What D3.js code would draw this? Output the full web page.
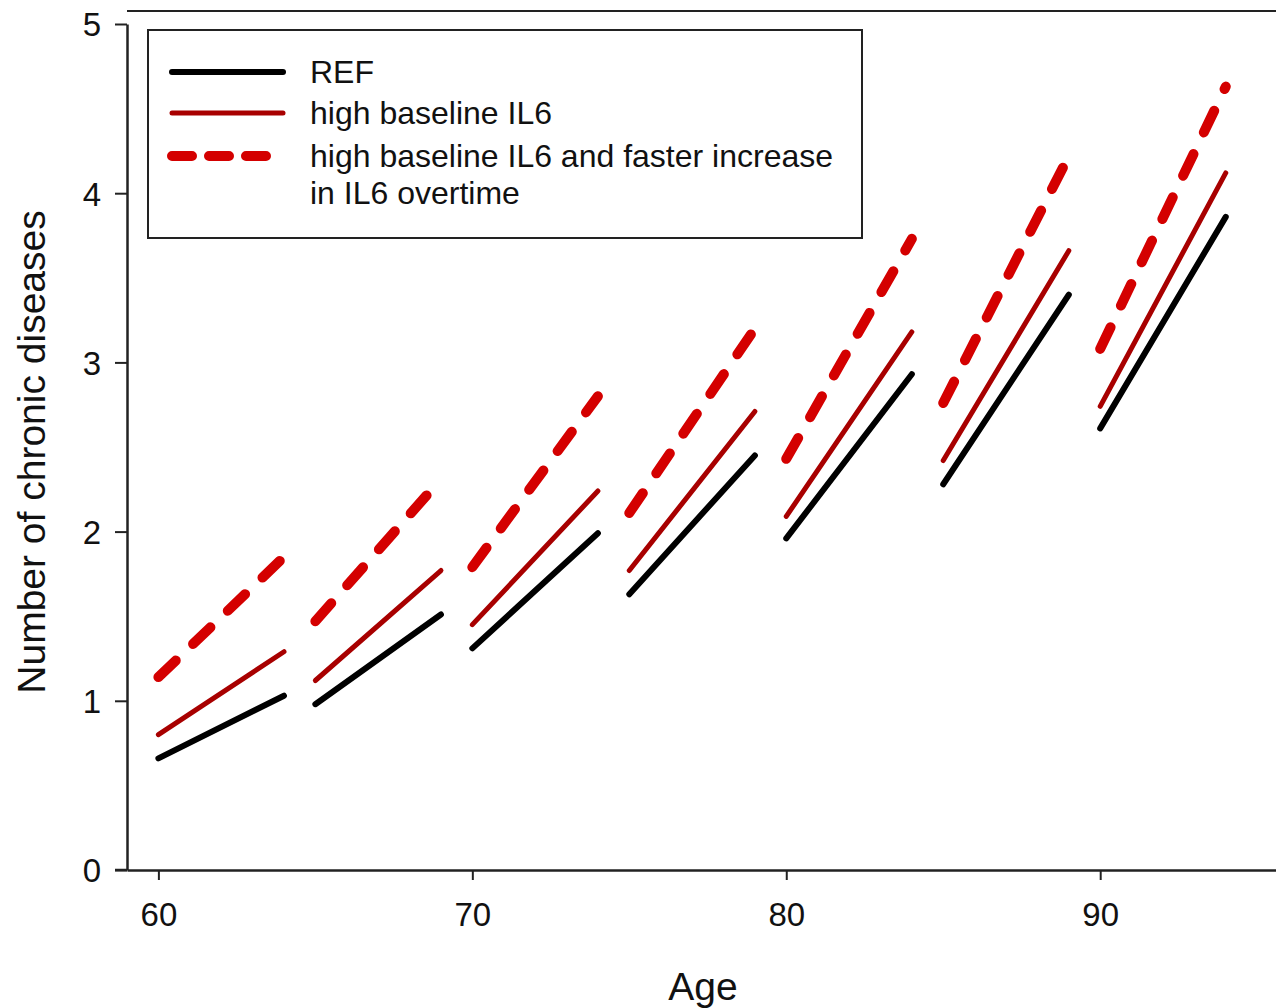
<!DOCTYPE html>
<html>
<head>
<meta charset="utf-8">
<script src="https://cdn.jsdelivr.net/npm/d3@7"></script>
<style>
  body { margin: 0; background: #fff; }
  text { font-family: "Liberation Sans", Arial, sans-serif; fill: #111; }
</style>
</head>
<body>
<script>
// data: each age group has a start and end age
const starts = [60, 65, 70, 75, 80, 85, 90];
const ends = [64, 69, 74, 79, 84, 89, 94];

const refStart = [0.66, 0.98, 1.31, 1.63, 1.96, 2.28, 2.61];
const refEnd = [1.03, 1.51, 1.99, 2.45, 2.93, 3.40, 3.86];

const highStart = [0.80, 1.12, 1.45, 1.77, 2.09, 2.42, 2.74];
const highEnd = [1.29, 1.77, 2.24, 2.71, 3.18, 3.66, 4.12];

const fastStart = [1.14, 1.47, 1.79, 2.11, 2.43, 2.76, 3.08];
const fastEnd = [1.85, 2.31, 2.80, 3.20, 3.73, 4.22, 4.63];

const xTicks = [60, 70, 80, 90];
const yTicks = [0, 1, 2, 3, 4, 5];

const legendLabels = ["REF", "high baseline IL6", "high baseline IL6 and faster increase", "in IL6 overtime"];

const W = 1276, H = 1008;
const svg = d3.select("body").append("svg").attr("width", W).attr("height", H);

const x = d3.scaleLinear().domain([59, 95.6]).range([127, 1276]);
const y = d3.scaleLinear().domain([0, 5]).range([870, 24]);

// top frame line
svg.append("line").attr("x1", 127).attr("x2", W).attr("y1", 11).attr("y2", 11)
  .attr("stroke", "#222").attr("stroke-width", 2);

// axes
const yAxis = svg.append("g").attr("transform", "translate(127,0)")
  .call(d3.axisLeft(y).tickValues(yTicks).tickFormat(d3.format("d"))
    .tickSize(12).tickPadding(14).tickSizeOuter(0));
const xAxis = svg.append("g").attr("transform", "translate(0,870)")
  .call(d3.axisBottom(x).tickValues(xTicks).tickFormat(d3.format("d"))
    .tickSize(10).tickPadding(23).tickSizeOuter(0));

[xAxis, yAxis].forEach(g => {
  g.attr("font-size", 33);
  g.select(".domain").attr("stroke", "#222").attr("stroke-width", 2.5);
  g.selectAll(".tick line").attr("stroke", "#222").attr("stroke-width", 2);
  g.selectAll(".tick text").attr("fill", "#111");
});
yAxis.selectAll(".tick text").attr("dy", "0.36em");
// x axis line runs to the 0 tick on the left
xAxis.append("line").attr("x1", 115).attr("x2", 127).attr("y1", 0).attr("y2", 0)
  .attr("stroke", "#222").attr("stroke-width", 2.5);

// axis titles
svg.append("text").attr("x", 703).attr("y", 1000).attr("text-anchor", "middle")
  .attr("font-size", 39).text("Age");
svg.append("text").attr("transform", "translate(45,452) rotate(-90)")
  .attr("text-anchor", "middle").attr("font-size", 39).text("Number of chronic diseases");

// series
const series = [
  { s: refStart, e: refEnd, color: "#000", width: 6, dash: null },
  { s: highStart, e: highEnd, color: "#a80000", width: 5, dash: null },
  { s: fastStart, e: fastEnd, color: "#d40000", width: 10, dash: "24 24" }
];

series.forEach(ser => {
  svg.append("g").selectAll("line").data(starts).enter().append("line")
    .attr("x1", (d, i) => x(starts[i]))
    .attr("y1", (d, i) => y(ser.s[i]))
    .attr("x2", (d, i) => x(ends[i]))
    .attr("y2", (d, i) => y(ser.e[i]))
    .attr("stroke", ser.color)
    .attr("stroke-width", ser.width)
    .attr("stroke-linecap", "round")
    .attr("stroke-dasharray", ser.dash);
});

// legend
const lg = svg.append("g");
lg.append("rect").attr("x", 148).attr("y", 30).attr("width", 714).attr("height", 208)
  .attr("fill", "#fff").attr("stroke", "#222").attr("stroke-width", 2);

const legendRows = [
  { y: 72, color: "#000", width: 6, dash: null },
  { y: 113, color: "#a80000", width: 5, dash: null },
  { y: 156, color: "#d40000", width: 10, dash: "20 17" }
];
legendRows.forEach(r => {
  lg.append("line").attr("x1", 172).attr("x2", r.dash ? 266 : 283)
    .attr("y1", r.y).attr("y2", r.y)
    .attr("stroke", r.color).attr("stroke-width", r.width)
    .attr("stroke-linecap", "round").attr("stroke-dasharray", r.dash);
});
const legendY = [72, 113, 156, 193];
legendLabels.forEach((t, i) => {
  lg.append("text").attr("x", 310).attr("y", legendY[i] + 11)
    .attr("font-size", 32).text(t);
});
</script>
</body>
</html>
